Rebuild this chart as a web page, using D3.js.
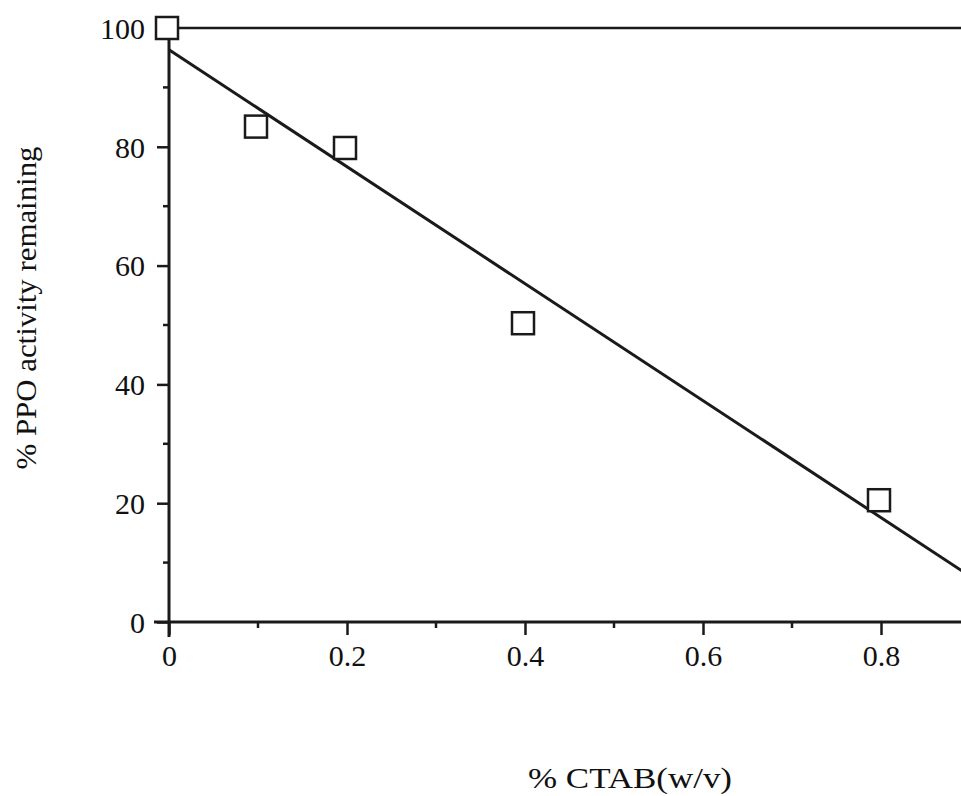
<!DOCTYPE html>
<html>
<head>
<meta charset="utf-8">
<script src="https://cdn.jsdelivr.net/npm/d3@7"></script>
<style>
  body { margin: 0; background: #fff; }
  text { font-family: "Liberation Serif", "DejaVu Serif", serif; fill: #111; }
</style>
</head>
<body>
<script>
// data
var ctab = [0, 0.1, 0.2, 0.4, 0.8];
var activity = [100, 83.4, 79.8, 50.3, 20.5];
var xTicks = [0, 0.2, 0.4, 0.6, 0.8];
var xMinor = [0.1, 0.3, 0.5, 0.7];
var yTicks = [0, 20, 40, 60, 80, 100];
var yMinor = [10, 30, 50, 70, 90];

var w = 961,
    h = 796;
var svg = d3.select('body').append('svg').attr("width", w).attr("height", h);

var x = d3.scaleLinear().domain([0, 0.9]).range([169, 970]);
var y = d3.scaleLinear().domain([0, 100]).range([622, 28]);

// least squares fit through the points
var mx = d3.mean(ctab), my = d3.mean(activity);
var sxy = d3.sum(ctab, function(d, i) { return (d - mx) * (activity[i] - my); });
var sxx = d3.sum(ctab, function(d) { return (d - mx) * (d - mx); });
var slope = sxy / sxx, icpt = my - slope * mx;

var ink = "#1a1a1a";

// top line at 100
svg.append("line")
  .attr("x1", x(0)).attr("x2", w)
  .attr("y1", y(100)).attr("y2", y(100))
  .attr("stroke", ink).attr("stroke-width", 2.5);

// y axis
var yAxis = d3.axisLeft(y).tickValues(yTicks).tickSize(12).tickPadding(12).tickFormat(d3.format("d"));
var gy = svg.append("g").attr("transform", "translate(" + x(0) + ",0)").call(yAxis);
gy.select(".domain").remove();
gy.selectAll("line").attr("stroke", ink).attr("stroke-width", 2.5);
gy.selectAll("text").style("font-size", "30px").attr("dy", "0.34em");
gy.selectAll(".minor").data(yMinor).enter().append("line")
  .attr("x1", -6).attr("x2", 0)
  .attr("y1", function(d) { return y(d); }).attr("y2", function(d) { return y(d); })
  .attr("stroke", ink).attr("stroke-width", 2.5);
gy.append("line")
  .attr("x1", 0).attr("x2", 0).attr("y1", y(100)).attr("y2", y(0) + 15)
  .attr("stroke", ink).attr("stroke-width", 3);

// x axis
var xAxis = d3.axisBottom(x).tickValues(xTicks).tickSize(13).tickPadding(10)
  .tickFormat(function(d) { return d === 0 ? "0" : d3.format(".1f")(d); });
var gx = svg.append("g").attr("transform", "translate(0," + y(0) + ")").call(xAxis);
gx.select(".domain").remove();
gx.selectAll("line").attr("stroke", ink).attr("stroke-width", 2.5);
gx.selectAll("text").style("font-size", "30px");
gx.selectAll(".minor").data(xMinor).enter().append("line")
  .attr("x1", function(d) { return x(d); }).attr("x2", function(d) { return x(d); })
  .attr("y1", 0).attr("y2", 6)
  .attr("stroke", ink).attr("stroke-width", 2.5);
gx.append("line")
  .attr("x1", x(0) - 15).attr("x2", w).attr("y1", 0).attr("y2", 0)
  .attr("stroke", ink).attr("stroke-width", 3);

// fitted line
svg.append("line")
  .attr("x1", x(0)).attr("y1", y(icpt))
  .attr("x2", x(0.9)).attr("y2", y(icpt + slope * 0.9))
  .attr("stroke", ink).attr("stroke-width", 3);

// square markers
var s = 22;
svg.selectAll("rect.pt").data(ctab).enter().append("rect")
  .attr("class", "pt")
  .attr("x", function(d) { return x(d) - s / 2 - 2; })
  .attr("y", function(d, i) { return y(activity[i]) - s / 2; })
  .attr("width", s).attr("height", s)
  .attr("fill", "#fff").attr("stroke", ink).attr("stroke-width", 2.5);

// axis titles
svg.append("text")
  .attr("x", 630).attr("y", 788)
  .attr("text-anchor", "middle")
  .attr("textLength", 204)
  .attr("lengthAdjust", "spacingAndGlyphs")
  .style("font-size", "30px")
  .text("% CTAB(w/v)");

svg.append("text")
  .attr("transform", "translate(36,308) rotate(-90)")
  .attr("text-anchor", "middle")
  .attr("textLength", 323)
  .attr("lengthAdjust", "spacingAndGlyphs")
  .style("font-size", "30px")
  .text("% PPO activity remaining");
</script>
</body>
</html>
